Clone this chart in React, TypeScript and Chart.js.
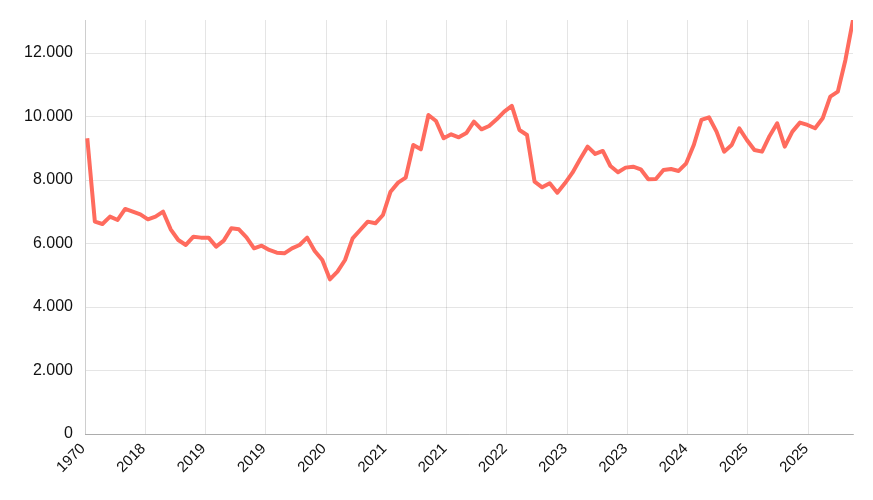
import React, { useEffect, useRef } from "react";
import { Chart, registerables } from "chart.js";

Chart.register(...registerables);

// Series values (one per period, left to right)
const seriesValues: number[] = [
  9315, 6688, 6615, 6846, 6741, 7088, 7003, 6920, 6762, 6846,
  7003, 6447, 6111, 5954, 6216, 6185, 6185, 5901, 6090, 6478,
  6447, 6195, 5849, 5932, 5796, 5712, 5691, 5849, 5954, 6185,
  5765, 5481, 4872, 5114, 5481, 6164, 6426, 6688, 6636, 6898,
  7633, 7917, 8075, 9104, 8967, 10049, 9860, 9314, 9440, 9345,
  9480, 9838, 9597, 9702, 9912, 10153, 10332, 9576, 9418, 7948,
  7770, 7896, 7602, 7896, 8231, 8652, 9051, 8820, 8915, 8442,
  8243, 8390, 8421, 8337, 8022, 8030, 8316, 8348, 8285, 8526,
  9104, 9891, 9975, 9524, 8893, 9104, 9629, 9261, 8946, 8893,
  9387, 9787, 9051, 9524, 9808, 9734, 9629, 9944, 10625, 10783,
  11781, 13040,
];

// X-axis tick labels (as shown, left to right)
const xTickLabels: string[] = [
  "1970", "2018", "2019", "2019", "2020", "2021", "2021",
  "2022", "2023", "2023", "2024", "2025", "2025",
];

// Y-axis tick values
const yTickValues: number[] = [0, 2000, 4000, 6000, 8000, 10000, 12000];
const yMax = 13040;

const xMin = -0.3;
const xTickStep = 7.95;

function formatThousands(v: number): string {
  return String(Math.round(v)).replace(/\B(?=(\d{3})+(?!\d))/g, ".");
}

export default function App() {
  const canvasRef = useRef<HTMLCanvasElement | null>(null);

  useEffect(() => {
    if (!canvasRef.current) return;
    const points = seriesValues.map((v, i) => ({ x: i, y: v }));
    const gridColor = "rgba(0,0,0,0.1)";
    const fontFamily = "'Liberation Sans', Arial, Helvetica, sans-serif";
    const chart = new Chart(canvasRef.current, {
      type: "line",
      data: {
        datasets: [
          {
            data: points,
            borderColor: "rgb(255, 107, 94)",
            borderWidth: 4,
            pointRadius: 0,
            tension: 0,
            borderJoinStyle: "round",
            fill: false,
          },
        ],
      },
      options: {
        animation: false,
        responsive: true,
        maintainAspectRatio: false,
        layout: { padding: { top: 12, right: 12, left: 0, bottom: 0 } },
        plugins: { legend: { display: false }, tooltip: { enabled: false } },
        scales: {
          x: {
            type: "linear",
            min: xMin,
            max: seriesValues.length - 1,
            afterBuildTicks: (scale: any) => {
              scale.ticks = xTickLabels.map((_, k) => ({ value: xMin + k * xTickStep }));
            },
            afterFit: (scale: any) => {
              scale.height = 58;
            },
            grid: { color: gridColor, drawTicks: false },
            border: { color: "rgba(0,0,0,0.25)" },
            ticks: {
              autoSkip: false,
              minRotation: 45,
              maxRotation: 45,
              padding: 6,
              labelOffset: -2,
              color: "#111",
              font: { family: fontFamily, size: 15 },
              callback: (_v: any, index: number) => xTickLabels[index] ?? "",
            },
          },
          y: {
            min: 0,
            max: yMax,
            afterBuildTicks: (scale: any) => {
              scale.ticks = yTickValues.map((value) => ({ value }));
            },
            afterFit: (scale: any) => {
              scale.width = 77;
              scale.paddingTop = 0;
            },
            grid: { color: gridColor, drawTicks: false },
            border: { color: gridColor },
            ticks: {
              padding: 12,
              color: "#111",
              font: { family: fontFamily, size: 16 },
              callback: (v: any) => formatThousands(Number(v)),
            },
          },
        },
      },
    });
    return () => chart.destroy();
  }, []);

  return (
    <div style={{ position: "relative", width: 857, height: 484 }}>
      <canvas ref={canvasRef} />
    </div>
  );
}
